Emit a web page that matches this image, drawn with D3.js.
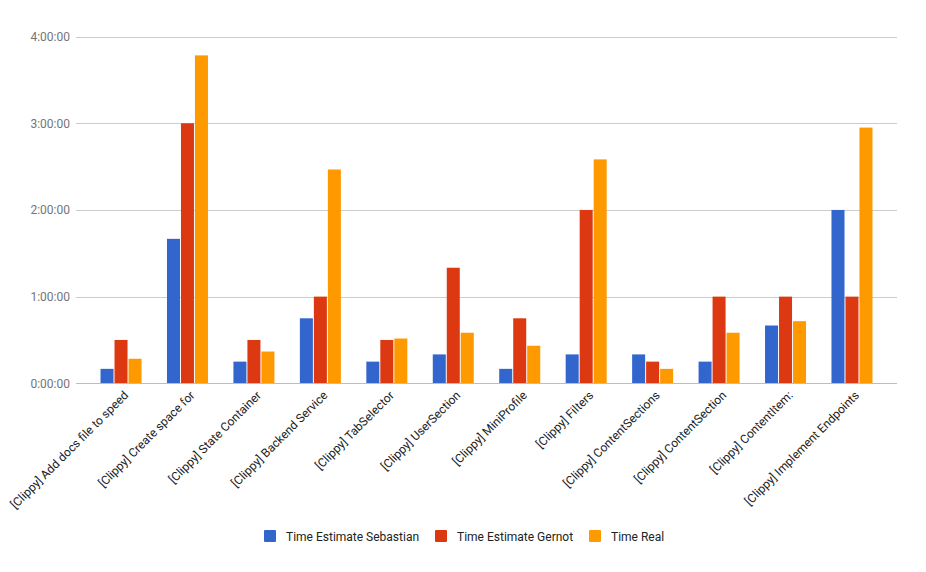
<!DOCTYPE html>
<html>
<head>
<meta charset="utf-8">
<script src="https://cdn.jsdelivr.net/npm/d3@7"></script>
<style>
  body { margin: 0; background: #fff; font-family: Roboto, Arial, sans-serif; }
</style>
</head>
<body>
<div id="chart"></div>
<script>
// tasks on the x axis
const categories = [
  "[Clippy] Add docs file to speed",
  "[Clippy] Create space for",
  "[Clippy] State Container",
  "[Clippy] Backend Service",
  "[Clippy] TabSelector",
  "[Clippy] UserSection",
  "[Clippy] MiniProfile",
  "[Clippy] Filters",
  "[Clippy] ContentSections",
  "[Clippy] ContentSection",
  "[Clippy] ContentItem:",
  "[Clippy] Implement Endpoints"
]
const seriesNames = ["Time Estimate Sebastian", "Time Estimate Gernot", "Time Real"]
const seriesColors = ["#3366cc", "#dc3912", "#ff9900"]
// values in minutes
const sebastian = [10, 100, 15, 45, 15, 20, 10, 20, 20, 15, 40, 120]
const gernot = [30, 180, 30, 60, 30, 80, 45, 120, 15, 60, 60, 60]
const real = [17, 227, 22, 148, 31, 35, 26, 155, 10, 35, 43, 177]
const yTicks = [0, 60, 120, 180, 240]

const width = 926
const height = 572
const plot = {left: 76, right: 897, top: 36.6, bottom: 383.3}

const svg = d3.select('#chart').append('svg')
  .attr('width', width)
  .attr('height', height)

const table = categories.map((c, i) => ({
  name: c,
  values: [sebastian[i], gernot[i], real[i]]
}))

const x0 = d3.scaleBand()
  .domain(categories)
  .range([plot.left, plot.right])
  .paddingInner(0.383)
  .paddingOuter(0.369)

const x1 = d3.scaleBand()
  .domain(d3.range(seriesNames.length))
  .range([0, x0.bandwidth()])
  .paddingInner(0.07)

const yScale = d3.scaleLinear()
  .domain([0, 240])
  .range([plot.bottom, plot.top])

const fmt = m => Math.floor(m / 60) + ':' + String(m % 60).padStart(2, '0') + ':00'

// gridlines + y labels
const grid = svg.append('g')
grid.selectAll('line')
  .data(yTicks)
  .join('line')
  .attr('x1', plot.left)
  .attr('x2', plot.right)
  .attr('y1', d => Math.round(yScale(d)) + 0.5)
  .attr('y2', d => Math.round(yScale(d)) + 0.5)
  .attr('stroke', d => d === 0 ? '#bdbdbd' : '#cccccc')
  .attr('stroke-width', 1)

grid.selectAll('text')
  .data(yTicks)
  .join('text')
  .attr('x', 70)
  .attr('y', d => yScale(d) + 4.5)
  .attr('text-anchor', 'end')
  .style('font-size', '12px')
  .style('fill', '#757575')
  .text(fmt)

// bars
const groups = svg.append('g').selectAll('g')
  .data(table)
  .join('g')
  .attr('transform', d => 'translate(' + x0(d.name) + ',0)')

groups.selectAll('rect')
  .data(d => d.values.map((v, i) => ({v, i})))
  .join('rect')
  .attr('x', d => x1(d.i))
  .attr('width', x1.bandwidth())
  .attr('y', d => yScale(d.v))
  .attr('height', d => yScale(0) - yScale(d.v))
  .attr('fill', d => seriesColors[d.i])

// baseline on top of bars
svg.append('line')
  .attr('x1', plot.left)
  .attr('x2', plot.right)
  .attr('y1', Math.round(yScale(0)) + 0.5)
  .attr('y2', Math.round(yScale(0)) + 0.5)
  .attr('stroke', '#bdbdbd')

// rotated category labels
svg.append('g').selectAll('text')
  .data(categories)
  .join('text')
  .attr('transform', d => 'translate(' + (x0(d) + x0.bandwidth() / 2 + 8) + ',' + 396 + ') rotate(-45)')
  .attr('text-anchor', 'end')
  .style('font-size', '12px')
  .style('fill', '#222222')
  .text(d => d)

// legend
const legendX = [264, 435, 589]
const legend = svg.append('g').selectAll('g')
  .data(seriesNames)
  .join('g')
  .attr('transform', (d, i) => 'translate(' + legendX[i] + ',530)')

legend.append('rect')
  .attr('width', 12)
  .attr('height', 12)
  .attr('rx', 1)
  .attr('fill', (d, i) => seriesColors[i])

legend.append('text')
  .attr('x', 22)
  .attr('y', 10.5)
  .style('font-size', '12px')
  .style('fill', '#222222')
  .text(d => d)
</script>
</body>
</html>
